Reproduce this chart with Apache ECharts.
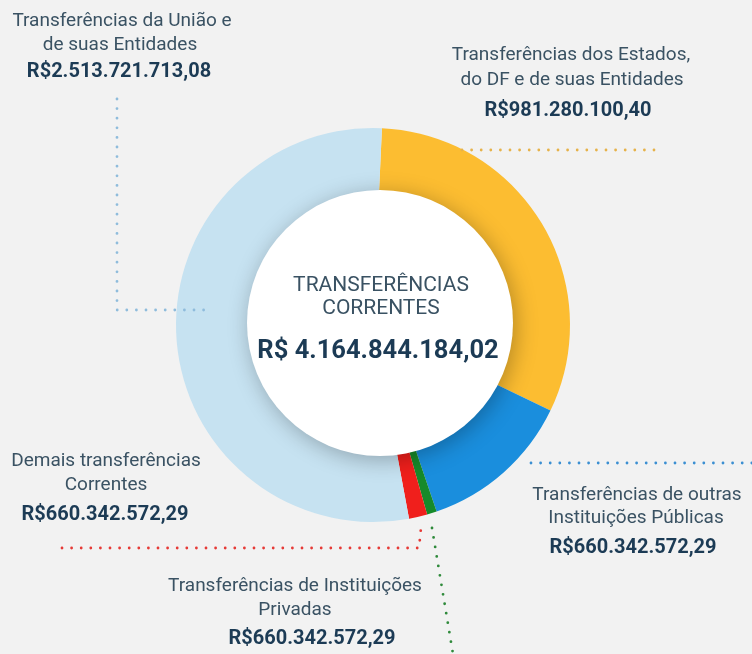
<!DOCTYPE html>
<html>
<head>
<meta charset="utf-8">
<title>Transferências Correntes</title>
<script src="https://cdn.jsdelivr.net/npm/echarts@6/dist/echarts.min.js"></script>
<style>
  html, body { margin: 0; padding: 0; background: #f2f2f2; }
  #chart { width: 752px; height: 654px; }
</style>
</head>
<body>
<div id="chart"></div>
<script>
// fatias na ordem horária, a partir do topo
const categories = [
  'Transferências dos Estados, do DF e de suas Entidades',
  'Transferências de outras Instituições Públicas',
  'Transferências de Instituições Privadas',
  'Demais transferências Correntes',
  'Transferências da União e de suas Entidades'
]
// participação (%)
const shares = [31.4, 12.6, 0.8, 1.5, 53.6]
const amounts = [
  'R$981.280.100,40',
  'R$660.342.572,29',
  'R$660.342.572,29',
  'R$660.342.572,29',
  'R$2.513.721.713,08'
]
const colors = ['#fcbd31', '#1a8edd', '#168a2a', '#f01f1c', '#c6e2f1']
const totalTitle = ['TRANSFERÊNCIAS', 'CORRENTES']
const totalValue = 'R$ 4.164.844.184,02'

const textColor = '#3a5263'
const boldColor = '#1c3b55'
const font = 'Roboto, "Noto Sans", sans-serif'
const labelSize = 19
const amountSize = 20

function txt(x, y, text, bold, size) {
  return {
    type: 'text',
    x: x,
    y: y,
    z: 10,
    style: {
      text: text,
      fill: bold ? boldColor : textColor,
      font: (bold ? 'bold ' : '') + size + 'px ' + font,
      textAlign: 'center',
      textVerticalAlign: 'middle'
    }
  }
}

function dots(points, color) {
  return {
    type: 'polyline',
    z: 5,
    shape: { points: points },
    style: {
      stroke: color,
      lineWidth: 2.8,
      lineDash: [0, 9.6],
      lineCap: 'round',
      fill: null
    }
  }
}

const chart = echarts.init(document.getElementById('chart'))

chart.setOption({
  backgroundColor: '#f2f2f2',
  animation: false,
  series: [{
    type: 'pie',
    center: [373, 325],
    radius: [110, 197],
    startAngle: 87.4,
    silent: true,
    label: { show: false },
    labelLine: { show: false },
    data: categories.map((name, i) => ({
      name: name,
      value: shares[i],
      itemStyle: { color: colors[i] }
    }))
  }, {
    // círculo branco central
    type: 'pie',
    center: [380, 323],
    radius: [0, 133],
    silent: true,
    z: 3,
    label: { show: false },
    labelLine: { show: false },
    data: [{
      value: 1,
      itemStyle: {
        color: '#ffffff',
        shadowBlur: 22,
        shadowColor: 'rgba(0,0,0,0.28)',
        shadowOffsetX: 3,
        shadowOffsetY: 4
      }
    }]
  }],
  graphic: [
    // linhas pontilhadas
    dots([[117, 99], [117, 310], [206, 310]], '#8fbcdc'),
    dots([[462, 150], [656, 150]], '#e6b24a'),
    dots([[531, 463], [752, 463]], '#3b8fd2'),
    dots([[62, 548], [419, 548], [421, 528]], '#e63a36'),
    dots([[432, 528], [453, 654]], '#2f8a3b'),

    // centro
    txt(381, 286, totalTitle[0], false, 21),
    txt(381, 309, totalTitle[1], false, 21),
    txt(378, 352, totalValue, true, 25.5),

    // União
    txt(122, 21, 'Transferências da União e', false, labelSize),
    txt(120, 45, 'de suas Entidades', false, labelSize),
    txt(119, 72, amounts[4], true, amountSize),

    // Estados
    txt(571, 55, 'Transferências dos Estados,', false, labelSize),
    txt(572, 80, 'do DF e de suas Entidades', false, labelSize),
    txt(568, 111, amounts[0], true, amountSize),

    // outras instituições públicas
    txt(637, 495, 'Transferências de outras', false, labelSize),
    txt(636, 518, 'Instituições Públicas', false, labelSize),
    txt(633, 548, amounts[1], true, amountSize),

    // demais
    txt(106, 461, 'Demais transferências', false, labelSize),
    txt(106, 485, 'Correntes', false, labelSize),
    txt(105, 515, amounts[3], true, amountSize),

    // instituições privadas
    txt(295, 586, 'Transferências de Instituições', false, labelSize),
    txt(295, 610, 'Privadas', false, labelSize),
    txt(312, 639, amounts[2], true, amountSize)
  ]
})
</script>
</body>
</html>
